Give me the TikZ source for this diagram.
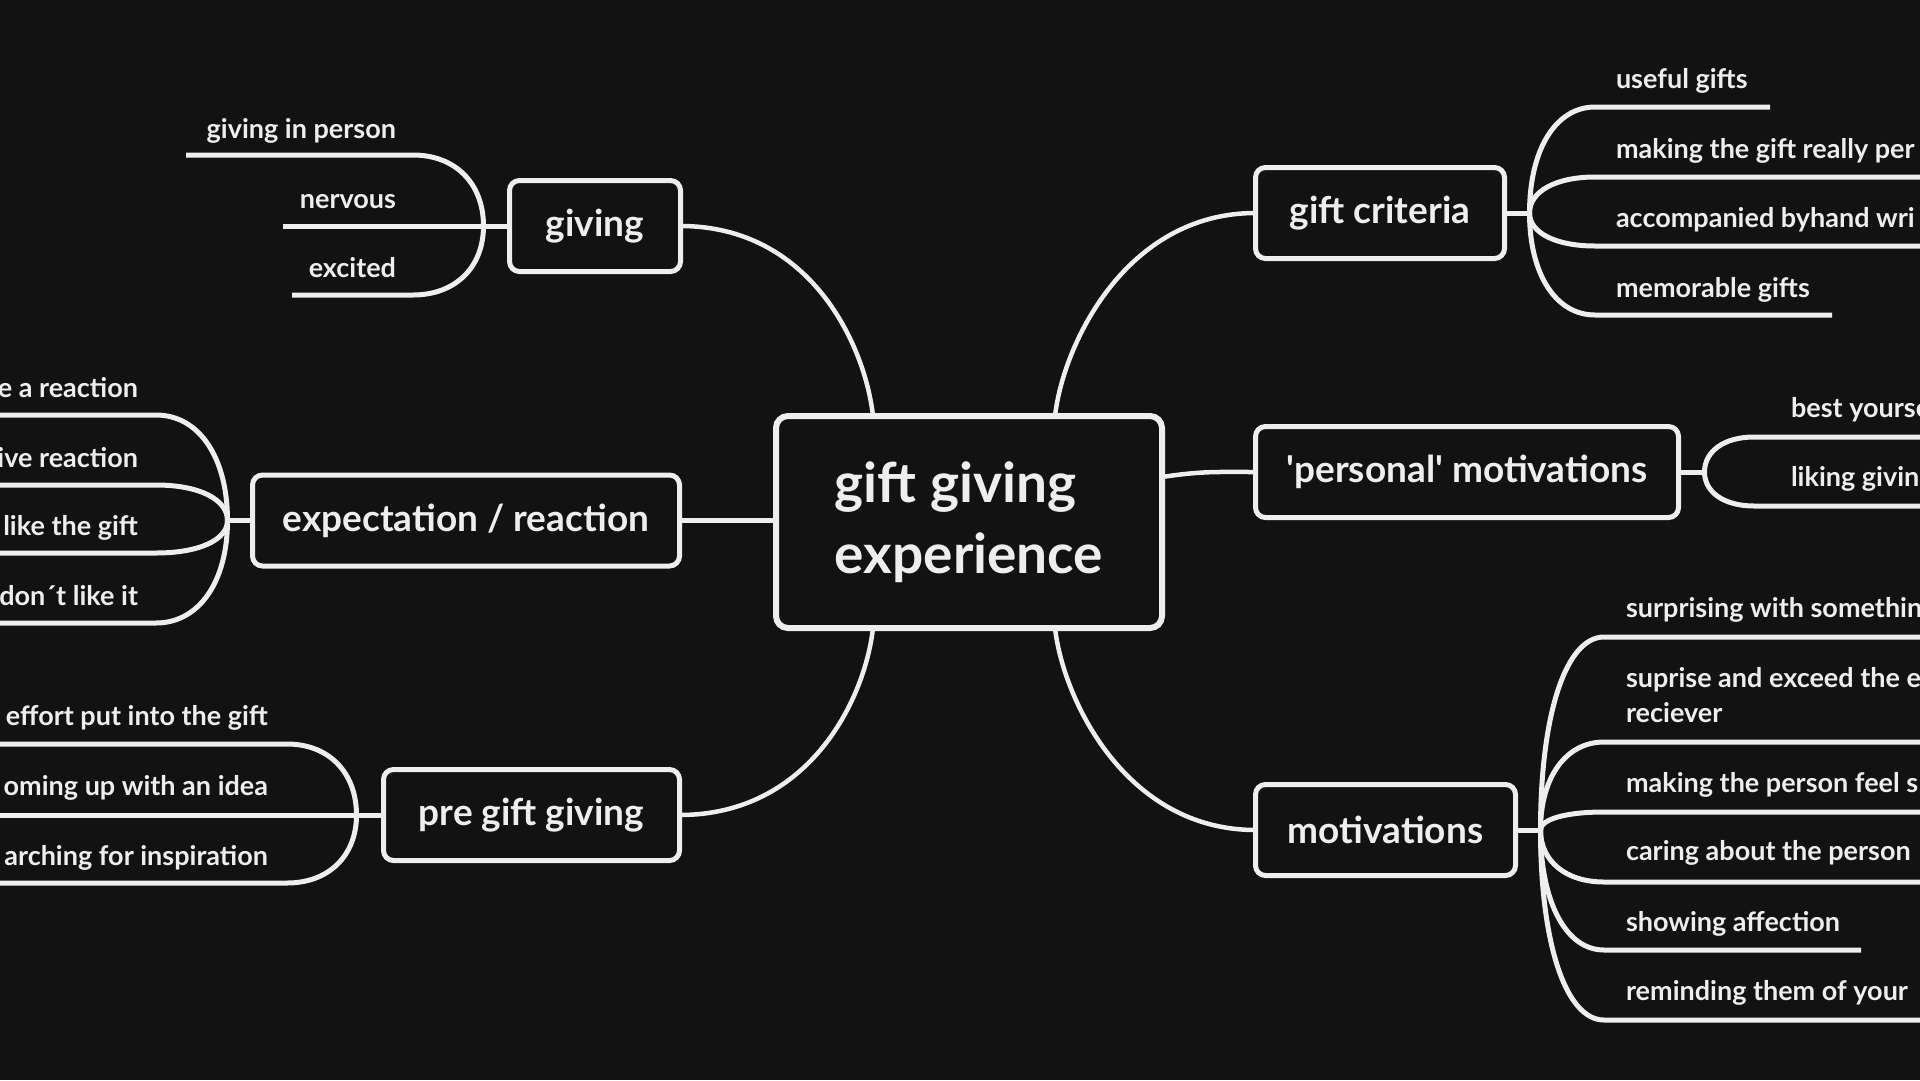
\documentclass[tikz,border=0pt]{standalone}
\usepackage{fontspec}
\setmainfont{Lato}
\usetikzlibrary{calc}
\definecolor{bg}{HTML}{121212}
\definecolor{ink}{HTML}{EEEEEE}

\begin{document}
\begin{tikzpicture}[x=1pt,y=-1pt,
  every node/.style={text=ink, inner sep=0pt, outer sep=0pt},
  hub/.style={draw=ink, line width=6pt, rounded corners=12pt, fill=bg,
    minimum width=386pt, minimum height=212pt, align=left,
    font=\fontsize{55}{71}\selectfont\bfseries},
  topic/.style={draw=ink, line width=5pt, rounded corners=10pt, fill=bg,
    minimum height=91pt, font=\fontsize{37}{44}\selectfont\bfseries},
  leaf/.style={font=\fontsize{27}{35}\selectfont\bfseries},
  branch/.style={draw=ink, line width=4.5pt},
  twig/.style={draw=ink, line width=5pt},
  fork/.style={to path={.. controls ($(\tikztostart)!0.6!(\tikztostart|-\tikztotarget)$)
      and ($(\tikztotarget)!0.6!(\tikztostart|-\tikztotarget)$) .. (\tikztotarget) \tikztonodes}},
]
\useasboundingbox (0,0) rectangle (1920,1080);
\fill[bg] (0,0) rectangle (1920,1080);
\clip (0,0) rectangle (1920,1080);

% central topic and main topics
\node[hub] (hub) at (969,522) {gift giving\\experience};
\node[topic, minimum width=171pt] (gv) at (595,226) {giving};
\node[topic, minimum width=427pt] (ex) at (466,520.5) {expectation / reaction};
\node[topic, minimum width=296pt] (pg) at (531.5,815) {pre gift giving};
\node[topic, minimum width=249pt] (gc) at (1380,213) {gift criteria};
\node[topic, minimum width=423pt] (pm) at (1467,472) {\textquotesingle personal\textquotesingle\ motivations};
\node[topic, minimum width=260pt] (mo) at (1385.5,830) {motivations};

% main branches
\draw[branch] (gv.east) .. controls +(130,0) and +(-8,-71) .. ([xshift=97pt]hub.north west);
\draw[branch] (pg.east) .. controls +(130,0) and +(-8,71) .. ([xshift=97pt]hub.south west);
\draw[branch] (gc.west) .. controls +(-130,0) and +(8,-71) .. ([xshift=-107pt]hub.north east);
\draw[branch] (mo.west) .. controls +(-130,0) and +(8,71) .. ([xshift=-107pt]hub.south east);
\draw[branch] ([yshift=45pt]hub.east) .. controls +(40,-6) and +(-40,0) .. (pm.west);
\draw[branch] (ex.east) -- (ex.east -| hub.west);

% giving
\coordinate (gvF) at ([xshift=-26pt]gv.west);
\coordinate (gv1) at (413,155);  \coordinate (gv1e) at (186,155);
\coordinate (gv2e) at (283,226);
\coordinate (gv3) at (413,295);  \coordinate (gv3e) at (292,295);
\draw[twig] (gv.west) -- (gv2e);
\draw[twig] (gvF) to[fork] (gv1) -- (gv1e);
\draw[twig] (gvF) to[fork] (gv3) -- (gv3e);
\node[leaf, anchor=base east] (gvt1) at (396,138) {giving in person};
\node[leaf, anchor=base east] (gvt2) at (396,208) {nervous};
\node[leaf, anchor=base east] (gvt3) at (396,277) {excited};

% expectation / reaction
\coordinate (exF) at ([xshift=-25pt]ex.west);
\coordinate (ex1) at (156,415);  \coordinate (ex1e) at (-10,415);
\coordinate (ex2) at (156,485);  \coordinate (ex2e) at (-10,485);
\coordinate (ex3) at (156,553);  \coordinate (ex3e) at (-10,553);
\coordinate (ex4) at (156,623);  \coordinate (ex4e) at (-10,623);
\draw[twig] (ex.west) -- (exF);
\draw[twig] (exF) to[fork] (ex1) -- (ex1e);
\draw[twig] (exF) to[fork] (ex2) -- (ex2e);
\draw[twig] (exF) to[fork] (ex3) -- (ex3e);
\draw[twig] (exF) to[fork] (ex4) -- (ex4e);
\node[leaf, anchor=base east] (ext1) at (138,397) {e a reaction};
\node[leaf, anchor=base east] (ext2) at (138,467) {ive reaction};
\node[leaf, anchor=base east] (ext3) at (138,535) {like the gift};
\node[leaf, anchor=base east] (ext4) at (138,605) {don´t like it};

% pre gift giving
\coordinate (pgF) at ([xshift=-27pt]pg.west);
\coordinate (pg1) at (287,744);  \coordinate (pg1e) at (-10,744);
\coordinate (pg2e) at (-10,815);
\coordinate (pg3) at (287,883);  \coordinate (pg3e) at (-10,883);
\draw[twig] (pg.west) -- (pg2e);
\draw[twig] (pgF) to[fork] (pg1) -- (pg1e);
\draw[twig] (pgF) to[fork] (pg3) -- (pg3e);
\node[leaf, anchor=base east] (pgt1) at (268,725) {effort put into the gift};
\node[leaf, anchor=base east] (pgt2) at (268,795) {oming up with an idea};
\node[leaf, anchor=base east] (pgt3) at (268,865) {arching for inspiration};

% gift criteria
\coordinate (gcF) at ([xshift=25pt]gc.east);
\coordinate (gc1) at (1595,107);  \coordinate (gc1e) at (1770,107);
\coordinate (gc2) at (1595,177);  \coordinate (gc2e) at (1930,177);
\coordinate (gc3) at (1595,246);  \coordinate (gc3e) at (1930,246);
\coordinate (gc4) at (1595,315);  \coordinate (gc4e) at (1832,315);
\draw[twig] (gc.east) -- (gcF);
\draw[twig] (gcF) to[fork] (gc1) -- (gc1e);
\draw[twig] (gcF) to[fork] (gc2) -- (gc2e);
\draw[twig] (gcF) to[fork] (gc3) -- (gc3e);
\draw[twig] (gcF) to[fork] (gc4) -- (gc4e);
\node[leaf, anchor=base west] (gct1) at (1616,88) {useful gifts};
\node[leaf, anchor=base west] (gct2) at (1616,158) {making the gift really per};
\node[leaf, anchor=base west] (gct3) at (1616,227) {accompanied byhand wri};
\node[leaf, anchor=base west] (gct4) at (1616,297) {memorable gifts};

% 'personal' motivations
\coordinate (pmF) at ([xshift=26pt]pm.east);
\coordinate (pm1) at (1754,437);  \coordinate (pm1e) at (1930,437);
\coordinate (pm2) at (1754,506);  \coordinate (pm2e) at (1930,506);
\draw[twig] (pm.east) -- (pmF);
\draw[twig] (pmF) to[fork] (pm1) -- (pm1e);
\draw[twig] (pmF) to[fork] (pm2) -- (pm2e);
\node[leaf, anchor=base west] (pmt1) at (1791,417) {best yourse};
\node[leaf, anchor=base west] (pmt2) at (1791,486) {liking givin};

% motivations
\coordinate (moF) at ([xshift=25pt]mo.east);
\coordinate (mo1) at (1604,637);  \coordinate (mo1e) at (1930,637);
\coordinate (mo2) at (1604,742);  \coordinate (mo2e) at (1930,742);
\coordinate (mo3) at (1604,812);  \coordinate (mo3e) at (1930,812);
\coordinate (mo4) at (1604,882);  \coordinate (mo4e) at (1930,882);
\coordinate (mo5) at (1604,950);  \coordinate (mo5e) at (1861,950);
\coordinate (mo6) at (1604,1020); \coordinate (mo6e) at (1930,1020);
\draw[twig] (mo.east) -- (moF);
\draw[twig] (moF) to[fork] (mo1) -- (mo1e);
\draw[twig] (moF) to[fork] (mo2) -- (mo2e);
\draw[twig] (moF) to[fork] (mo3) -- (mo3e);
\draw[twig] (moF) to[fork] (mo4) -- (mo4e);
\draw[twig] (moF) to[fork] (mo5) -- (mo5e);
\draw[twig] (moF) to[fork] (mo6) -- (mo6e);
\node[leaf, anchor=base west] (mot1) at (1626,617) {surprising with somethin};
\node[leaf, anchor=base west, align=left] (mot2) at (1626,722) {suprise and exceed the e\\reciever};
\node[leaf, anchor=base west] (mot3) at (1626,792) {making the person feel s};
\node[leaf, anchor=base west] (mot4) at (1626,860) {caring about the person};
\node[leaf, anchor=base west] (mot5) at (1626,931) {showing affection};
\node[leaf, anchor=base west] (mot6) at (1626,1000) {reminding them of your};
\end{tikzpicture}
\end{document}
